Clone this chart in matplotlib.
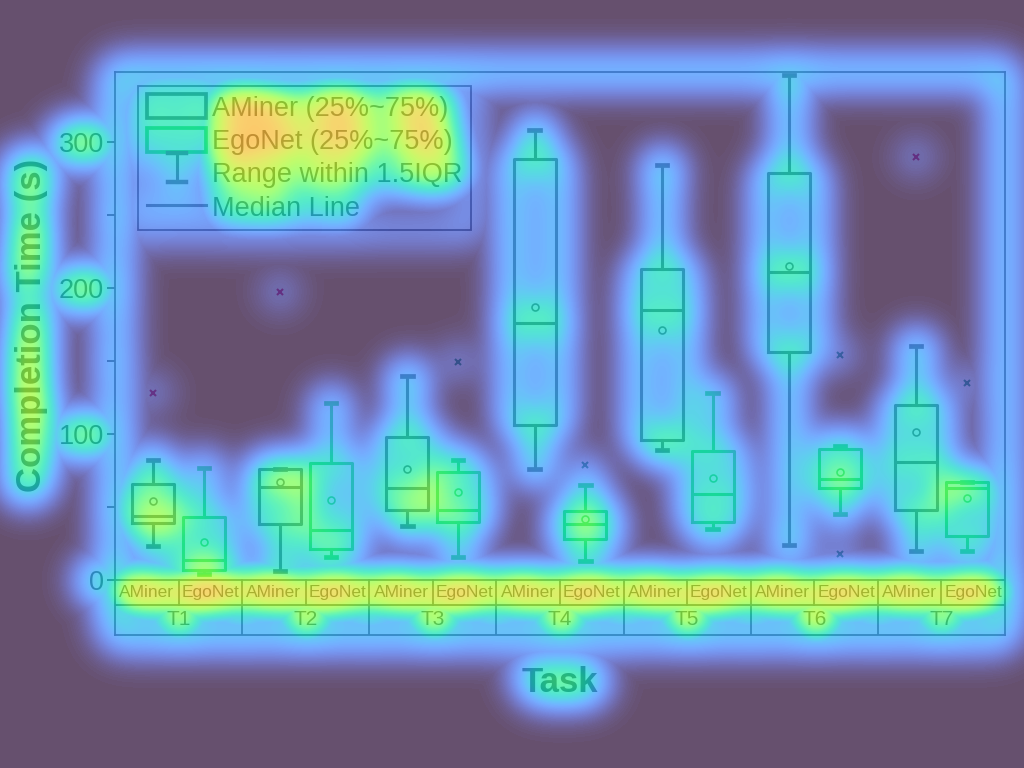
import numpy as np
import matplotlib
matplotlib.use("Agg")
import matplotlib.pyplot as plt
from matplotlib.patches import Rectangle
from matplotlib.lines import Line2D
from matplotlib.legend_handler import HandlerBase

plt.rcParams['font.family'] = ['Liberation Sans', 'DejaVu Sans']

# ---------------- data ----------------
tasks = ['T1', 'T2', 'T3', 'T4', 'T5', 'T6', 'T7']
methods = ['AMiner', 'EgoNet']

am_lo   = [23, 6, 37, 76, 89, 24, 20]
am_q1   = [39, 38, 48, 106, 96, 156, 48]
am_med  = [44, 64, 63, 176, 185, 211, 81]
am_q3   = [66, 76, 98, 288, 213, 279, 120]
am_hi   = [82, 76, 140, 308, 284, 346, 160]
am_mean = [54, 67, 76, 187, 171, 215, 101]
am_out  = [[128], [197], [], [], [], [], [290]]

eg_lo   = [4, 16, 16, 13, 35, 45, 20]
eg_q1   = [7, 21, 40, 28, 40, 63, 30]
eg_med  = [14, 34, 48, 38, 59, 69, 63]
eg_q3   = [43, 80, 74, 47, 88, 90, 67]
eg_hi   = [77, 121, 82, 65, 128, 92, 67]
eg_mean = [26, 55, 60, 42, 70, 74, 56]
eg_out  = [[], [], [149], [79], [], [154, 18], [135]]

yticks = [0, 100, 200, 300]
legend_labels = ['AMiner (25%~75%)', 'EgoNet (25%~75%)', 'Range within 1.5IQR', 'Median Line']

# ---------------- styles ----------------
am_color = '#3a3a3a'
eg_color = '#19c832'
am_flier = '#d0205a'
eg_flier = '#1a8a5a'
txt_color = '#222222'
grid_color = '#333333'
LW = 2.2

fig = plt.figure(figsize=(10.24, 7.68), dpi=100)
fig.patch.set_facecolor('white')
ax = fig.add_axes([115/1024, 1-635/768, 890/1024, 563/768])

ymin, ymax = -37.7, 347.9
row_div = -17.1


def make_stats(lo, q1, med, q3, hi, mean, out):
    return [dict(whislo=a, q1=b, med=c, q3=d, whishi=e, mean=f, fliers=g)
            for a, b, c, d, e, f, g in zip(lo, q1, med, q3, hi, mean, out)]


box_artists = []


def draw(stats, offset, color, fcolor):
    pos = [i + offset for i in range(len(tasks))]
    res = ax.bxp(stats, positions=pos, widths=0.33, capwidths=0.08,
                 showmeans=True, meanline=False, manage_ticks=False,
                 boxprops=dict(color=color, lw=LW),
                 whiskerprops=dict(color=color, lw=LW),
                 capprops=dict(color=color, lw=LW + 1.2),
                 medianprops=dict(color=color, lw=LW),
                 meanprops=dict(marker='o', markerfacecolor='none',
                                markeredgecolor=color, markersize=5, mew=1.2),
                 flierprops=dict(marker='x', markeredgecolor=fcolor,
                                 markersize=5, mew=1.5))
    for v in res.values():
        box_artists.extend(v)


draw(make_stats(am_lo, am_q1, am_med, am_q3, am_hi, am_mean, am_out), 0.3, am_color, am_flier)
draw(make_stats(eg_lo, eg_q1, eg_med, eg_q3, eg_hi, eg_mean, eg_out), 0.7, eg_color, eg_flier)

ax.set_xlim(0, len(tasks))
ax.set_ylim(ymin, ymax)
ax.set_xticks([])
ax.set_yticks(yticks)
ax.set_yticks([50, 150, 250], minor=True)
ax.tick_params(axis='y', which='both', direction='out', length=6, width=1.3,
               labelsize=19.5, colors=txt_color, pad=2)
for s in ax.spines.values():
    s.set_color(grid_color)
    s.set_linewidth(1.3)

# category table under the zero line
table_artists = []
method_texts = []
task_texts = []
table_artists.append(ax.axhline(0, color=grid_color, lw=1.3))
table_artists.append(ax.axhline(row_div, color=grid_color, lw=1.3))
for i, t in enumerate(tasks):
    if i > 0:
        table_artists += ax.plot([i, i], [ymin, 0], color=grid_color, lw=1.3)
    table_artists += ax.plot([i + 0.5, i + 0.5], [row_div, 0], color=grid_color, lw=1.3)
    for j, m in enumerate(methods):
        method_texts.append(ax.text(i + 0.25 + 0.5 * j, row_div / 2, m, ha='center', va='center',
                                    fontsize=12.5, color=txt_color))
    task_texts.append(ax.text(i + 0.5, (row_div + ymin) / 2, t, ha='center', va='center',
                              fontsize=15, color=txt_color))

ax.set_ylabel('Completion Time (s)', fontsize=25, fontweight='bold', color=txt_color)
ax.yaxis.set_label_coords(-0.0755, 0.55)
ax.set_xlabel('Task', fontsize=25, fontweight='bold', color=txt_color, labelpad=22)


# legend with custom handles
class IBeamHandler(HandlerBase):
    def create_artists(self, legend, orig, xd, yd, w, h, fs, trans):
        cx = xd + w / 2
        cw = w * 0.3
        return [Line2D([cx, cx], [yd - 0.1 * h, yd + 1.1 * h], color=am_color, lw=LW, transform=trans),
                Line2D([cx - cw / 2, cx + cw / 2], [yd + 1.1 * h] * 2, color=am_color, lw=LW + 1, transform=trans),
                Line2D([cx - cw / 2, cx + cw / 2], [yd - 0.1 * h] * 2, color=am_color, lw=LW + 1, transform=trans)]


class IBeam:
    pass


h_am = Rectangle((0, 0), 1, 1, facecolor='none', edgecolor=am_color, lw=LW + 0.5)
h_eg = Rectangle((0, 0), 1, 1, facecolor='none', edgecolor=eg_color, lw=LW + 0.5)
h_rng = IBeam()
h_med = Line2D([], [], color=am_color, lw=LW)
leg = ax.legend([h_am, h_eg, h_rng, h_med], legend_labels,
                handler_map={IBeam: IBeamHandler()},
                loc='upper left', bbox_to_anchor=(0.026, 0.976), borderaxespad=0,
                fontsize=19.5, frameon=True, fancybox=False, framealpha=1,
                edgecolor=grid_color, handlelength=2.2, handleheight=1.0,
                handletextpad=0.22, labelspacing=0.22, borderpad=0.32)
leg.get_frame().set_linewidth(1.3)
for t in leg.get_texts():
    t.set_color(txt_color)


# ---------------- attention-style overlay derived from the rendered chart ----------------
def set_group(name, flag):
    if name == 'boxes':
        for a in box_artists:
            a.set_visible(flag)
    elif name == 'table':
        for a in table_artists:
            a.set_visible(flag)
    elif name == 'methods':
        for a in method_texts:
            a.set_visible(flag)
    elif name == 'tasks':
        for a in task_texts:
            a.set_visible(flag)
    elif name == 'legend':
        leg.set_visible(flag)
    elif name == 'xlabel':
        ax.xaxis.label.set_visible(flag)
    elif name == 'ylabel':
        ax.yaxis.label.set_visible(flag)
    elif name == 'ticks':
        ax.tick_params(axis='y', which='both', left=flag, labelleft=flag)
    elif name == 'spines':
        for s in ax.spines.values():
            s.set_visible(flag)


group_names = ['legend', 'methods', 'tasks', 'table', 'xlabel', 'ylabel', 'ticks', 'boxes', 'spines']


def gblur(img, s):
    pad = int(3 * s)
    P = np.pad(img, pad, mode='constant')
    ky = np.fft.fftfreq(P.shape[0])
    kx = np.fft.rfftfreq(P.shape[1])
    G = np.exp(-2 * (np.pi * s) ** 2 * (ky[:, None] ** 2 + kx[None, :] ** 2))
    out = np.fft.irfft2(np.fft.rfft2(P) * G, s=P.shape)
    return out[pad:-pad, pad:-pad]


def ink_of(active, legend_text=None):
    for g in group_names:
        set_group(g, g in active)
    for k, t in enumerate(leg.get_texts()):
        t.set_visible(legend_text is None or legend_text == k)
    fig.canvas.draw()
    rgb = np.asarray(fig.canvas.buffer_rgba())[:, :, :3].astype(float) / 255.0
    return 1.0 - rgb.mean(axis=2)


inks = {}
for g in ['methods', 'tasks', 'table', 'xlabel', 'ylabel', 'ticks', 'boxes', 'spines']:
    inks[g] = ink_of([g])
leg_rest = ink_of(['legend'], -1)
text_rel = [1.0, 1.0, 0.72, 0.5]
leg_txt = np.zeros_like(leg_rest)
for k, r in enumerate(text_rel):
    leg_txt += r * np.clip(ink_of(['legend'], k) - leg_rest, 0, 1)
inks['legend_text'] = leg_txt
inks['legend_rest'] = leg_rest
for g in group_names:
    set_group(g, True)
for t in leg.get_texts():
    t.set_visible(True)

weights = {'legend_text': 0.67, 'legend_rest': 0.34, 'methods': 0.54, 'tasks': 0.40,
           'table': 0.28, 'xlabel': 0.38, 'ylabel': 0.50, 'ticks': 0.39,
           'boxes': 0.48, 'spines': 0.22}
maps = []
for g, w in weights.items():
    b = gblur(inks[g], 17)
    b = np.clip(b / b.max(), 0, 1) ** 0.8 * w
    maps.append(b)
maps = np.array(maps)
mx = maps.max(axis=0)
heat = mx + 0.22 * (maps.sum(axis=0) - mx)
heat = np.clip(heat, 0, 0.85)

rgba = plt.get_cmap('turbo')(heat)
rgba[..., 3] = 0.74
oax = fig.add_axes([0, 0, 1, 1], zorder=100)
oax.imshow(rgba, aspect='auto', interpolation='bilinear')
oax.axis('off')

fig.savefig('out.png', dpi=100)
